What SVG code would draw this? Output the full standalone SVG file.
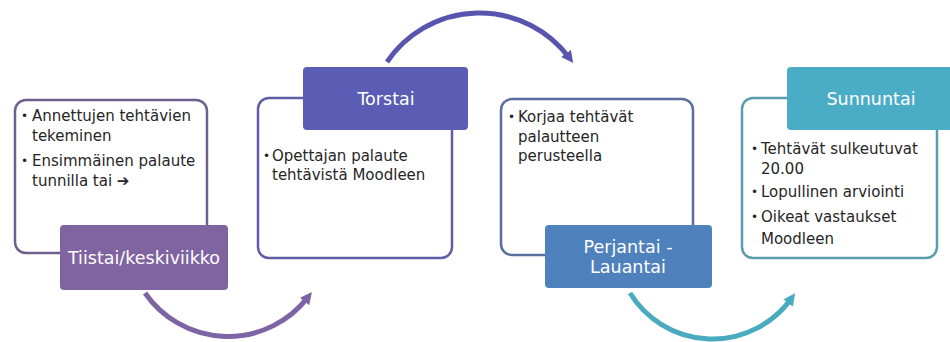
<svg xmlns="http://www.w3.org/2000/svg" width="950" height="342" viewBox="0 0 950 342">
<defs>
<style>
.body{font-family:"DejaVu Sans","Liberation Sans",sans-serif;font-size:15px;fill:#262626}
.blt{font-size:12px}
.lbl{font-family:"DejaVu Sans","Liberation Sans",sans-serif;font-size:17.5px;fill:#ffffff;text-anchor:middle}
.box{fill:#ffffff;stroke-width:2.5}
.arc{fill:none;stroke-width:5}
</style>
<marker id="ahP" markerUnits="userSpaceOnUse" markerWidth="12" markerHeight="12" viewBox="0 0 12 12" refX="5" refY="6" orient="auto"><path d="M0,0 L12,6 L0,12 z" fill="#7d65a5"/></marker>
<marker id="ahB" markerUnits="userSpaceOnUse" markerWidth="12" markerHeight="12" viewBox="0 0 12 12" refX="5" refY="6" orient="auto"><path d="M0,0 L12,6 L0,12 z" fill="#5755ae"/></marker>
<marker id="ahT" markerUnits="userSpaceOnUse" markerWidth="12" markerHeight="12" viewBox="0 0 12 12" refX="5" refY="6" orient="auto"><path d="M0,0 L12,6 L0,12 z" fill="#4aaabf"/></marker>
</defs>
<rect width="950" height="342" fill="#ffffff"/>

<g id="connectors">
<path class="arc" stroke="#7d65a5" d="M145,293 A101,101 0 0 0 307.6,297.6" marker-end="url(#ahP)"/>
<path class="arc" stroke="#5755ae" d="M387,62 A112,112 0 0 1 569,57.5" marker-end="url(#ahB)"/>
<path class="arc" stroke="#4aaabf" d="M630,293 A97,97 0 0 0 791,299" marker-end="url(#ahT)"/>
</g>

<g id="node-tiistai">
<rect class="box" x="15" y="100" width="192" height="153" rx="11" stroke="#6e5f8e"/>
<text class="body"><tspan class="blt" x="21" y="120">•</tspan><tspan x="32" y="121">Annettujen tehtävien</tspan><tspan x="32" y="141">tekeminen</tspan><tspan class="blt" x="21" y="165">•</tspan><tspan x="32" y="166">Ensimmäinen palaute</tspan><tspan x="32" y="186">tunnilla tai ➔</tspan></text>
<rect x="60" y="225" width="168" height="65" rx="4" fill="#8064a2"/>
<text class="lbl" x="144" y="264">Tiistai/keskiviikko</text>
</g>

<g id="node-torstai">
<rect class="box" x="258" y="98" width="194" height="160" rx="11" stroke="#5f5ea6"/>
<rect x="303" y="67" width="165" height="63" rx="4" fill="#5b5cb3"/>
<text class="lbl" x="386" y="105">Torstai</text>
<text class="body"><tspan class="blt" x="263" y="160">•</tspan><tspan x="272" y="161">Opettajan palaute</tspan><tspan x="272" y="180">tehtävistä Moodleen</tspan></text>
</g>

<g id="node-perjantai">
<rect class="box" x="501" y="99" width="192" height="156" rx="11" stroke="#5a6e9f"/>
<text class="body"><tspan class="blt" x="508" y="121">•</tspan><tspan x="518" y="122">Korjaa tehtävät</tspan><tspan x="518" y="142">palautteen</tspan><tspan x="518" y="161">perusteella</tspan></text>
<rect x="545" y="225" width="167" height="63" rx="4" fill="#4f81bd"/>
<text class="lbl"><tspan x="628" y="253">Perjantai -</tspan><tspan x="628" y="273">Lauantai</tspan></text>
</g>

<g id="node-sunnuntai">
<rect class="box" x="742" y="98" width="195" height="160" rx="11" stroke="#5b9caf"/>
<rect x="787" y="67" width="170" height="63" rx="4" fill="#4bacc6"/>
<text class="lbl" x="871" y="105">Sunnuntai</text>
<text class="body"><tspan class="blt" x="751" y="153">•</tspan><tspan x="761" y="154">Tehtävät sulkeutuvat</tspan><tspan x="761" y="174">20.00</tspan><tspan class="blt" x="751" y="196">•</tspan><tspan x="761" y="197">Lopullinen arviointi</tspan><tspan class="blt" x="751" y="221">•</tspan><tspan x="761" y="222">Oikeat vastaukset</tspan><tspan x="761" y="244">Moodleen</tspan></text>
</g>
</svg>
